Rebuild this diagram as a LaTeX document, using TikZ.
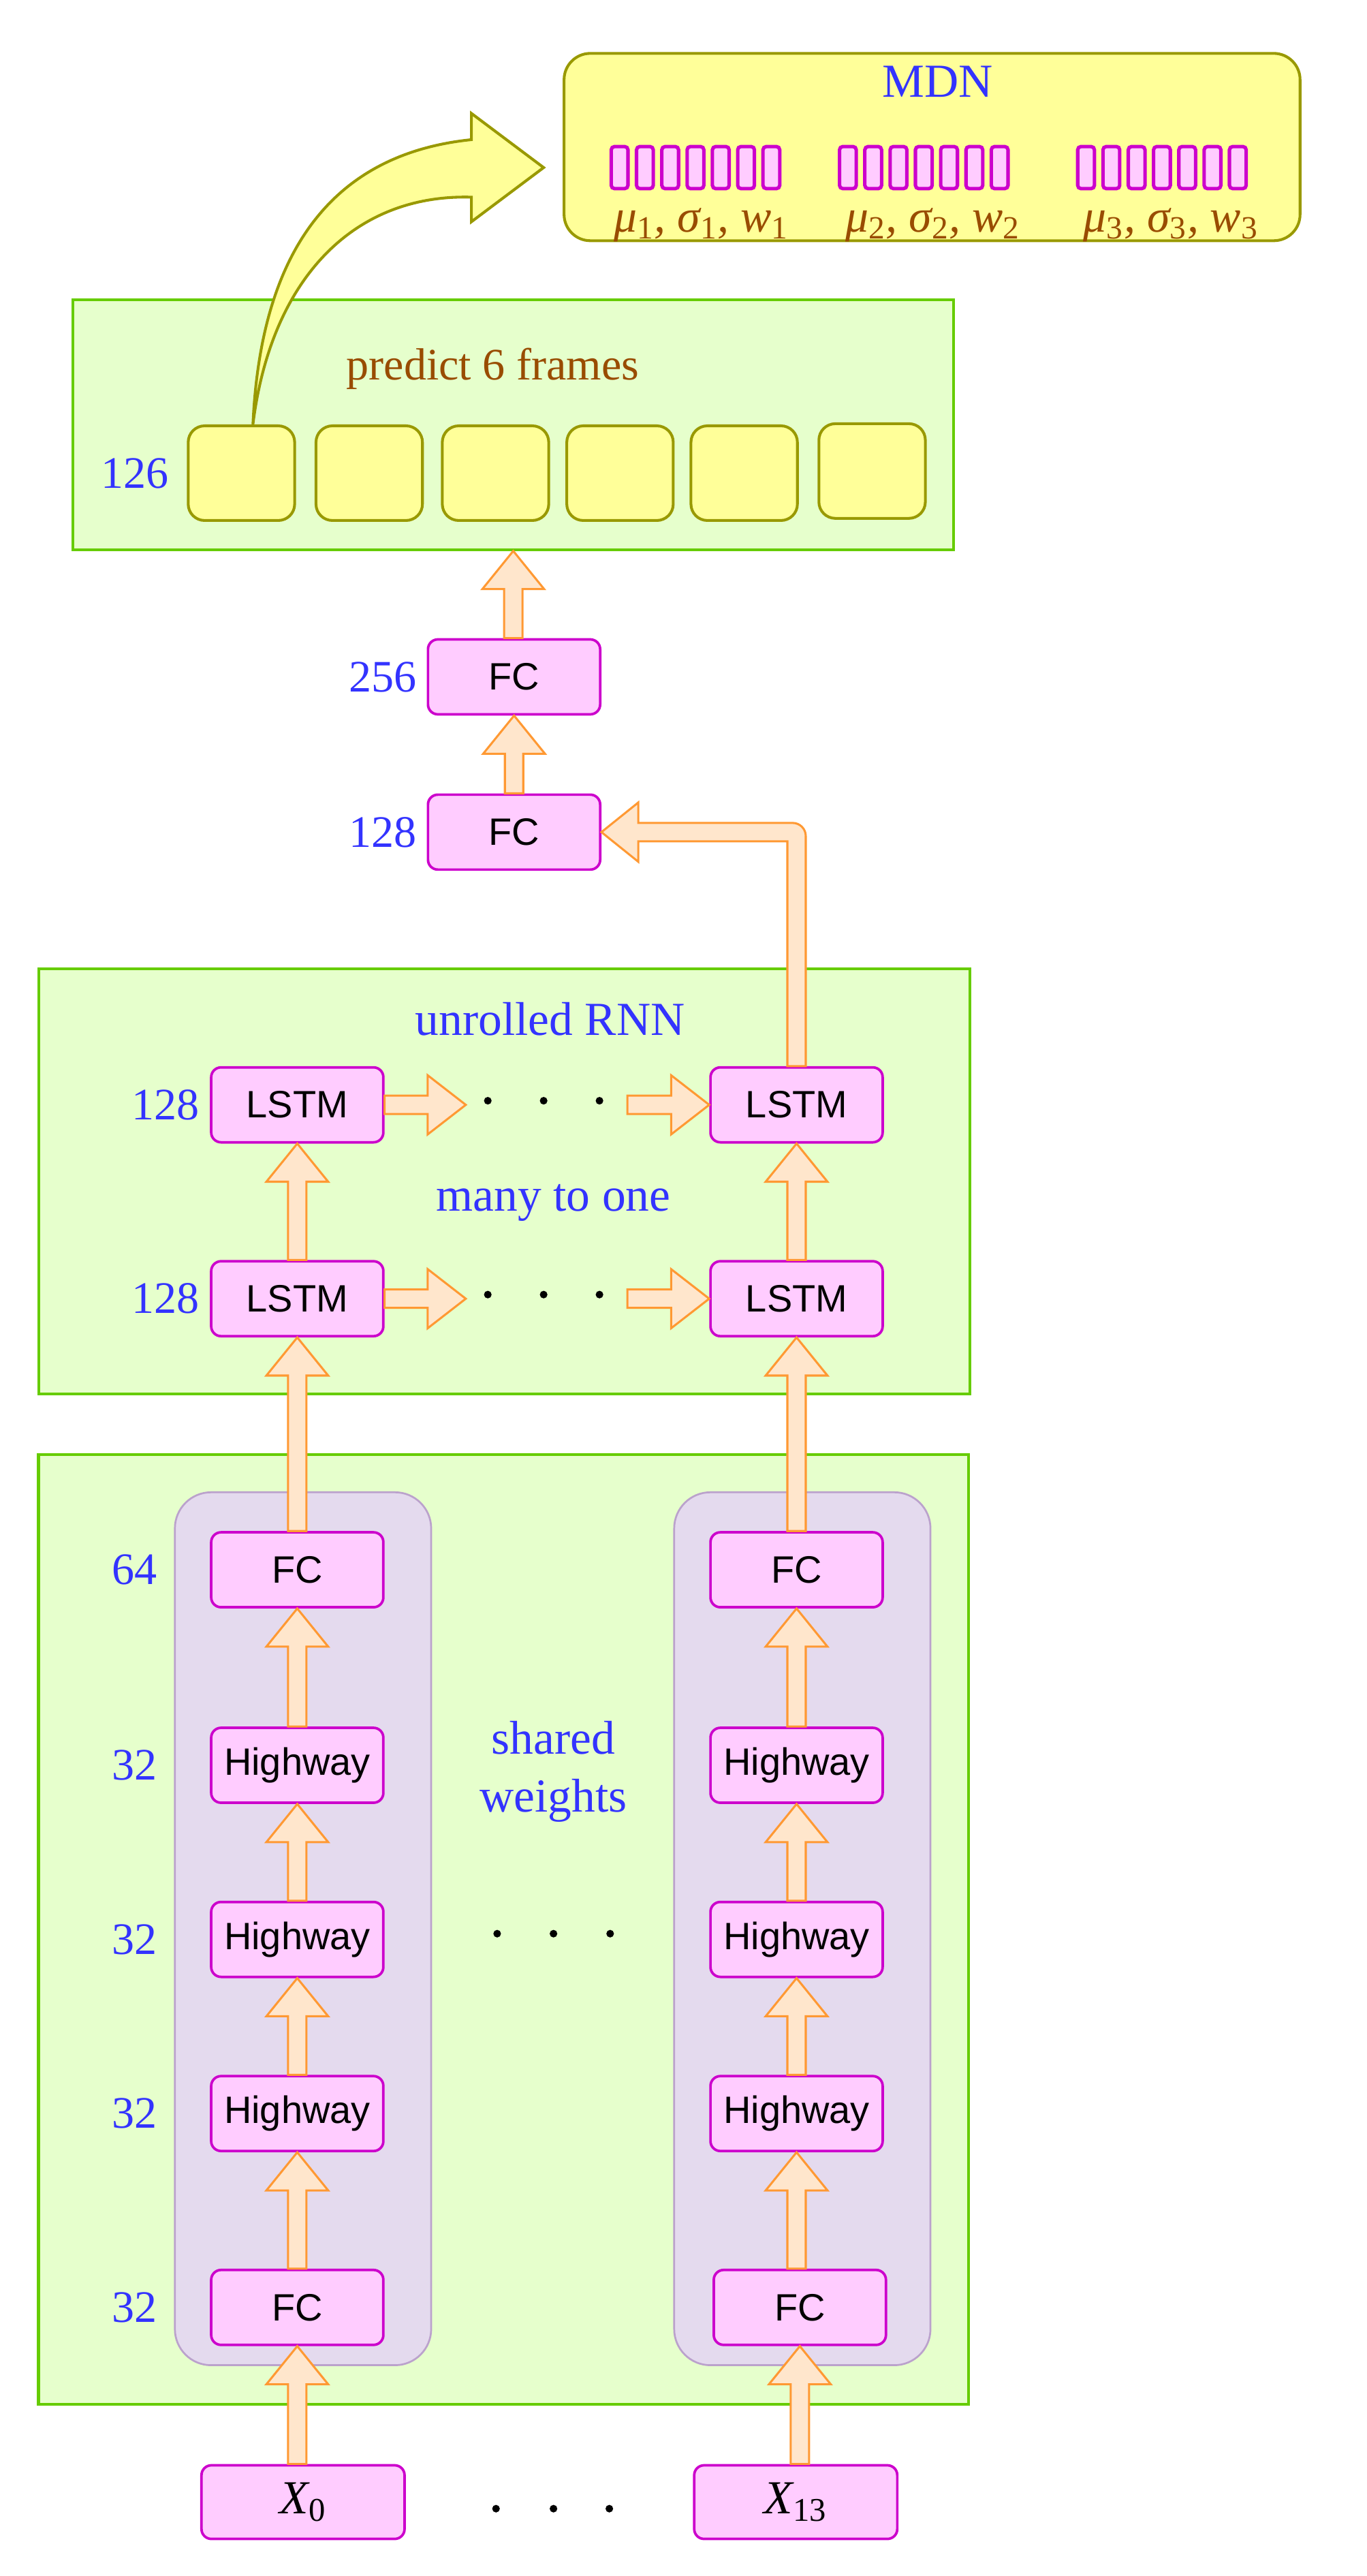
\documentclass[tikz,border=0pt]{standalone}
\usepackage{fontspec}
\setmainfont{Liberation Serif}
\setsansfont{Liberation Sans}
\usepackage{tikz}
\usetikzlibrary{positioning, calc}

\definecolor{boxgreen}{HTML}{E6FFCC}
\definecolor{linegreen}{HTML}{66CC00}
\definecolor{nodepink}{HTML}{FFCCFF}
\definecolor{linepink}{HTML}{CC00CC}
\definecolor{arrfill}{HTML}{FFE6CC}
\definecolor{arrline}{HTML}{FF9933}
\definecolor{yelfill}{HTML}{FFFF99}
\definecolor{yelline}{HTML}{999900}
\definecolor{grpfill}{HTML}{E4DAEE}
\definecolor{grpline}{HTML}{BBA2CC}
\definecolor{numblue}{HTML}{3333FF}
\definecolor{txtbrown}{HTML}{994C00}

\tikzset{
  layer/.style={rectangle, rounded corners=0.15cm, draw=linepink, fill=nodepink,
    line width=1.1pt, minimum width=2.62cm, minimum height=1.14cm, inner sep=0pt,
    font=\sffamily\fontsize{16.5}{18}\selectfont},
  frame/.style={rectangle, draw=linegreen, fill=boxgreen, line width=1.2pt, inner sep=0pt},
  group/.style={rectangle, rounded corners=0.55cm, draw=grpline, fill=grpfill,
    line width=0.8pt, inner sep=0pt, minimum width=3.9cm, minimum height=13.28cm},
  frame box/.style={rectangle, rounded corners=0.25cm, draw=yelline, fill=yelfill,
    line width=1.2pt, minimum width=1.62cm, minimum height=1.44cm, inner sep=0pt},
  bar/.style={rectangle, rounded corners=0.05cm, draw=linepink, fill=nodepink,
    line width=1.5pt, minimum width=0.255cm, minimum height=0.64cm, inner sep=0pt},
  num/.style={text=numblue, inner sep=0pt, font=\fontsize{19.5}{22}\selectfont},
  title/.style={text=numblue, inner sep=0pt, font=\fontsize{20.5}{25}\selectfont},
  brown/.style={text=txtbrown, inner sep=0pt, font=\fontsize{20}{22}\selectfont},
  flexarr/.style={draw=arrline, fill=arrfill, line width=0.9pt, line join=miter},
  bigarr/.style={draw=yelline, fill=yelfill, line width=1.2pt, line join=miter},
}

% fat hollow arrow pointing up, from #1 to #2
\newcommand{\flexup}[2]{%
  \path[flexarr] let \p1=(#1), \p2=(#2) in
    (\x2-0.14cm,\y1) -- (\x2-0.14cm,\y2-0.58cm) -- (\x2-0.47cm,\y2-0.58cm) -- (\x2,\y2)
    -- (\x2+0.47cm,\y2-0.58cm) -- (\x2+0.14cm,\y2-0.58cm) -- (\x2+0.14cm,\y1) -- cycle;}
% fat hollow arrow pointing right
\newcommand{\flexright}[2]{%
  \path[flexarr] let \p1=(#1), \p2=(#2) in
    (\x1,\y2-0.14cm) -- (\x2-0.58cm,\y2-0.14cm) -- (\x2-0.58cm,\y2-0.45cm) -- (\x2,\y2)
    -- (\x2-0.58cm,\y2+0.45cm) -- (\x2-0.58cm,\y2+0.14cm) -- (\x1,\y2+0.14cm) -- cycle;}

\begin{document}
\begin{tikzpicture}[x=0.025cm, y=-0.025cm]
  \useasboundingbox (0,0) rectangle (832,1568);

  % MDN output
  \node[rectangle, rounded corners=0.4cm, draw=yelline, fill=yelfill, line width=1.2pt,
    minimum width=11.2cm, minimum height=2.85cm] (mdn) at (567.5,89.5) {};
  \node[title, anchor=base] (mdnlabel) at (571,59) {MDN};
  \foreach \i in {0,...,6} {
    \node[bar] (ba\i) at ({377.25+15.4*\i},102) {};
    \node[bar] (bb\i) at ({516.25+15.4*\i},102) {};
    \node[bar] (bc\i) at ({661.25+15.4*\i},102) {};
  }
  \node[brown, anchor=base] (mix1) at (427,141)
    {\itshape μ\textsubscript{\upshape 1}, σ\textsubscript{\upshape 1}, w\textsubscript{\upshape 1}};
  \node[brown, anchor=base] (mix2) at (568,141)
    {\itshape μ\textsubscript{\upshape 2}, σ\textsubscript{\upshape 2}, w\textsubscript{\upshape 2}};
  \node[brown, anchor=base] (mix3) at (713,141)
    {\itshape μ\textsubscript{\upshape 3}, σ\textsubscript{\upshape 3}, w\textsubscript{\upshape 3}};

  % predicted frames
  \node[frame, minimum width=13.4cm, minimum height=3.8cm] (pbox) at (312.5,258.5) {};
  \node[brown, anchor=base, font=\fontsize{19.5}{22}\selectfont] (plabel) at (300,231) {predict 6 frames};
  \node[frame box] (yb1) at (147,288) {};
  \node[frame box] (yb2) at (224.8,288) {};
  \node[frame box] (yb3) at (301.7,288) {};
  \node[frame box] (yb4) at (377.5,288) {};
  \node[frame box] (yb5) at (453.1,288) {};
  \node[frame box] (yb6) at (531,286.7) {};
  \node[num, left=0.27cm of yb1] (n126) {126};

  % decoder FC layers
  \node[layer] (fc2) at (313,412) {FC};
  \node[layer] (fc1) at (313,506.5) {FC};
  \node[num, left=0.15cm of fc2] (n256) {256};
  \node[num, left=0.15cm of fc1] (n128) {128};

  % unrolled RNN
  \node[frame, minimum width=14.17cm, minimum height=6.47cm] (rnn) at (307,719) {};
  \node[title, anchor=base] (rnnlabel) at (335,630) {unrolled RNN};
  \node[title, anchor=base] (m2o) at (337,737) {many to one};
  \node[layer] (lstm2a) at (181,672.5) {LSTM};
  \node[layer] (lstm2b) at (485,672.5) {LSTM};
  \node[layer] (lstm1a) at (181,790.5) {LSTM};
  \node[layer] (lstm1b) at (485,790.5) {LSTM};
  \node[num, left=0.15cm of lstm2a] (n128b) {128};
  \node[num, left=0.15cm of lstm1a] (n128c) {128};
  \coordinate (h1) at (283.6,672.5);
  \coordinate (h2) at (382,672.5);
  \coordinate (h3) at (283.6,790.5);
  \coordinate (h4) at (382,790.5);
  \fill (297,670) circle[radius=0.058cm];
  \fill (331,670) circle[radius=0.058cm];
  \fill (365,670) circle[radius=0.058cm];
  \fill (297,788) circle[radius=0.058cm];
  \fill (331,788) circle[radius=0.058cm];
  \fill (365,788) circle[radius=0.058cm];

  % encoder with shared weights
  \node[frame, minimum width=14.15cm, minimum height=14.45cm] (enc) at (306.5,1174.5) {};
  \node[group] (grpl) at (184.5,1174) {};
  \node[group] (grpr) at (488.5,1174) {};
  \node[layer] (outl) at (181,955.5) {FC};
  \node[layer] (hwl3) at (181,1074.5) {Highway};
  \node[layer] (hwl2) at (181,1180.5) {Highway};
  \node[layer] (hwl1) at (181,1286.5) {Highway};
  \node[layer] (inl) at (181,1404.5) {FC};
  \node[layer] (outr) at (485,955.5) {FC};
  \node[layer] (hwr3) at (485,1074.5) {Highway};
  \node[layer] (hwr2) at (485,1180.5) {Highway};
  \node[layer] (hwr1) at (485,1286.5) {Highway};
  \node[layer] (inr) at (487,1404.5) {FC};
  \node[num, left=0.8cm of outl] (n64) {64};
  \node[num, left=0.8cm of hwl3] (n32a) {32};
  \node[num, left=0.8cm of hwl2] (n32b) {32};
  \node[num, left=0.8cm of hwl1] (n32c) {32};
  \node[num, left=0.8cm of inl] (n32d) {32};
  \node[title, align=center] (shared) at (337,1078.5) {shared\\weights};
  \fill (302.7,1177) circle[radius=0.058cm];
  \fill (337,1177) circle[radius=0.058cm];
  \fill (371.5,1177) circle[radius=0.058cm];

  % inputs
  \node[layer, minimum width=3.09cm, minimum height=1.12cm,
    font=\fontsize{20.5}{24}\selectfont] (x0) at (184.5,1523) {\itshape X\textsubscript{\upshape 0}};
  \node[layer, minimum width=3.09cm, minimum height=1.12cm,
    font=\fontsize{20.5}{24}\selectfont] (x13) at (484.5,1523) {\itshape X\textsubscript{\upshape 13}};
  \fill (302,1527) circle[radius=0.058cm];
  \fill (337,1527) circle[radius=0.058cm];
  \fill (371,1527) circle[radius=0.058cm];

  % arrows
  \flexup{x0.north}{inl.south}
  \flexup{x13.north}{inr.south}
  \flexup{inl.north}{hwl1.south}
  \flexup{hwl1.north}{hwl2.south}
  \flexup{hwl2.north}{hwl3.south}
  \flexup{hwl3.north}{outl.south}
  \flexup{inr.north}{hwr1.south}
  \flexup{hwr1.north}{hwr2.south}
  \flexup{hwr2.north}{hwr3.south}
  \flexup{hwr3.north}{outr.south}
  \flexup{outl.north}{lstm1a.south}
  \flexup{outr.north}{lstm1b.south}
  \flexup{lstm1a.north}{lstm2a.south}
  \flexup{lstm1b.north}{lstm2b.south}
  \flexright{lstm2a.east}{h1}
  \flexright{h2}{lstm2b.west}
  \flexright{lstm1a.east}{h3}
  \flexright{h4}{lstm1b.west}
  \path[flexarr] let \p1=(lstm2b.north), \p2=(fc1.east) in
    (\x1-0.14cm,\y1) -- (\x1-0.14cm,\y2-0.14cm) -- (\x2+0.56cm,\y2-0.14cm)
    -- (\x2+0.56cm,\y2-0.45cm) -- (\x2,\y2) -- (\x2+0.56cm,\y2+0.45cm)
    -- (\x2+0.56cm,\y2+0.14cm) -- (\x1-0.06cm,\y2+0.14cm)
    arc[start angle=90, end angle=0, radius=0.2cm] -- (\x1+0.14cm,\y1) -- cycle;
  \flexup{fc1.north}{fc2.south}
  \flexup{fc2.north}{pbox.south}

  % curved arrow into the MDN
  \coordinate (abase) at ($(yb1.north)+(7,0)$);
  \coordinate (atip) at (331,102);
  \path[bigarr] (abase) .. controls (158,170) and (190,95) .. (287,85) -- (287,69)
    -- (atip) -- (287,135) -- (287,120) .. controls (215,118) and (165,170) .. (abase) -- cycle;
\end{tikzpicture}
\end{document}
